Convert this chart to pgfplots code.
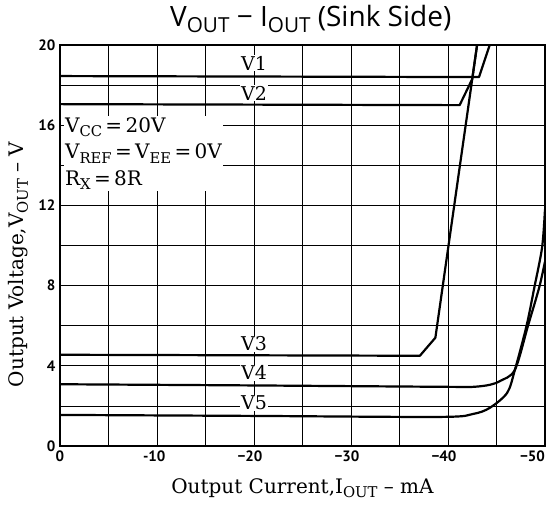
\documentclass[border=0pt]{standalone}
\usepackage{fontspec}
\usepackage{graphicx}
\usepackage{pgfplots}
\pgfplotsset{compat=1.18}
\setmainfont{DejaVu Serif}
\newfontfamily\tickf{PT Sans}
\newfontfamily\titlef{Open Sans}
\newcommand\sub[1]{\raisebox{-0.45ex}{\scalebox{0.74}{#1}}}
\begin{document}
\begin{tikzpicture}
\useasboundingbox (-60pt,-59pt) rectangle (487pt,446pt);
\begin{axis}[
  at={(0,0)}, anchor=south west,
  scale only axis, width=485pt, height=401pt,
  x dir=reverse,
  xmin=-50, xmax=0, ymin=0, ymax=20,
  xtick={0,-10,-20,-30,-40,-50},
  xticklabels={0,\llap{-}10,\llap{−}20,\llap{−}30,\llap{−}40,\makebox[0pt][r]{−50}},
  ytick={0,4,8,12,16,20},
  yticklabels={0,4,8,12,16,20},
  minor xtick={-5,-15,-25,-35,-45},
  minor ytick={2,6,10,14,18},
  grid=both,
  major grid style={black, line width=0.6pt},
  minor grid style={black, line width=0.6pt},
  major tick length=0pt, minor tick length=0pt,
  axis line style={black, line width=1.2pt},
  tick label style={font=\fontsize{15}{15}\selectfont\tickf\bfseries},
  xticklabel style={yshift=-1pt},
  yticklabel style={xshift=-1pt},
  xlabel={Output Current,I\sub{OUT} -- mA},
  ylabel={Output Voltage,V\sub{OUT} -- V},
  label style={font=\fontsize{20}{20}\selectfont},
  xlabel style={at={(axis description cs:0.5,-0.105)}, anchor=center},
  ylabel style={at={(axis description cs:-0.0866,0.453)}, anchor=center},
  title={V\sub{OUT} − I\sub{OUT} (Sink Side)},
  title style={font=\fontsize{28}{28}\selectfont\titlef, at={(axis description cs:0.517,1.032)}, anchor=base},
  clip=true,
]
\addplot[black, line width=2.2pt, line join=round] coordinates {(0,18.45) (-43.2,18.4) (-44.3,20)};
\addplot[black, line width=2.2pt, line join=round] coordinates {(0,17.05) (-41.2,17.0) (-42.5,18.3) (-43.0,20)};
\addplot[black, line width=2.2pt, line join=round] coordinates {(0,4.55) (-37.1,4.5) (-38.7,5.4) (-43.0,20)};
\addplot[black, line width=2.2pt, smooth, tension=0.5] coordinates {(0,3.08) (-20,3.02) (-40,2.95) (-42.6,2.95) (-44.3,3.05) (-45.4,3.25) (-46.9,3.8) (-48.25,6.0) (-49.4,7.9) (-50,9.2)};
\addplot[black, line width=2.2pt, smooth, tension=0.5] coordinates {(0,1.55) (-20,1.5) (-39.2,1.45) (-42.6,1.6) (-44.3,1.9) (-46.1,2.65) (-46.9,3.8) (-48.1,6.0) (-48.9,7.9) (-49.7,9.9) (-50,11.8)};
\node[font=\fontsize{19}{19}\selectfont, fill=white, inner sep=1pt] at (axis cs:-20,19.1) {V1};
\node[font=\fontsize{19}{19}\selectfont, fill=white, inner sep=1pt] at (axis cs:-20,17.6) {V2};
\node[font=\fontsize{19}{19}\selectfont, fill=white, inner sep=1pt] at (axis cs:-20,5.1) {V3};
\node[font=\fontsize{19}{19}\selectfont, fill=white, inner sep=1pt] at (axis cs:-20,3.65) {V4};
\node[font=\fontsize{19}{19}\selectfont, fill=white, inner sep=1pt] at (axis cs:-20,2.15) {V5};
\node[font=\fontsize{20}{26.5}\selectfont, anchor=north west, align=left, fill=white, inner sep=1pt] at (axis cs:-0.4,16.45)
  {V\sub{CC}\,=\,20V\\ V\sub{REF}\,=\,V\sub{EE}\,=\,0V\\ R\sub{X}\,=\,8R};
\end{axis}
\end{tikzpicture}
\end{document}
